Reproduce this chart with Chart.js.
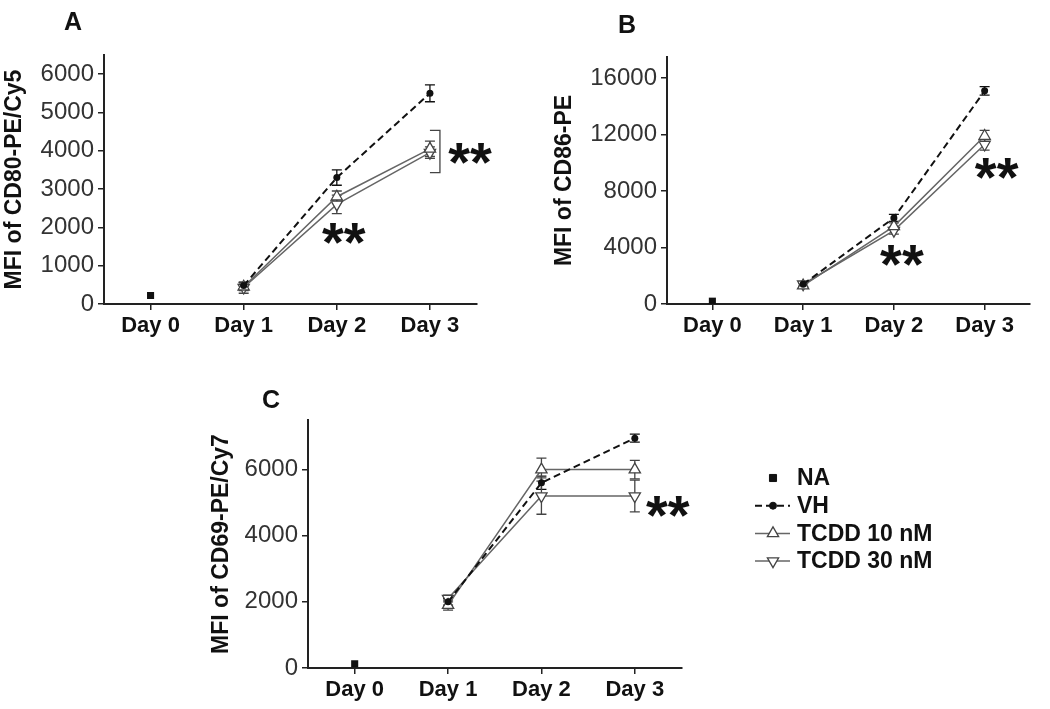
<!DOCTYPE html>
<html>
<head>
<meta charset="utf-8">
<script src="https://cdn.jsdelivr.net/npm/chart.js@4.4.1/dist/chart.umd.min.js"></script>
<style>
  body { margin: 0; background: #fff; width: 1050px; height: 709px; overflow: hidden; position: relative; }
  canvas { position: absolute; }
</style>
</head>
<body>
<canvas id="cA" width="500" height="345" style="left:0;top:0"></canvas>
<canvas id="cB" width="530" height="345" style="left:520px;top:0"></canvas>
<canvas id="cC" width="860" height="329" style="left:190px;top:380px"></canvas>
<script>
const days = ['Day 0', 'Day 1', 'Day 2', 'Day 3'];
const groups = ['NA', 'VH', 'TCDD 10 nM', 'TCDD 30 nM'];

// panel A - CD80
const cd80NA  = [220, null, null, null];
const cd80VH  = [null, 480, 3300, 5500];
const cd80T10 = [null, 450, 2800, 4050];
const cd80T30 = [null, 430, 2600, 3950];
const cd80VHErr  = [0, 80, 200, 220];
const cd80T10Err = [0, 100, 150, 200];
const cd80T30Err = [0, 150, 240, 150];

// panel B - CD86
const cd86NA  = [200, null, null, null];
const cd86VH  = [null, 1400, 6100, 15100];
const cd86T10 = [null, 1300, 5500, 11900];
const cd86T30 = [null, 1400, 5200, 11300];
const cd86VHErr  = [0, 150, 250, 300];
const cd86T10Err = [0, 150, 250, 400];
const cd86T30Err = [0, 150, 250, 400];

// panel C - CD69
const cd69NA  = [130, null, null, null];
const cd69VH  = [null, 2000, 5600, 6950];
const cd69T10 = [null, 1900, 6000, 6000];
const cd69T30 = [null, 2100, 5200, 5200];
const cd69VHErr  = [0, 100, 200, 120];
const cd69T10Err = [0, 150, 350, 280];
const cd69T30Err = [0, 100, 550, 480];

const FONT = '"Liberation Sans", Arial, Helvetica, sans-serif';
const INK = '#111';
const GREY = '#666';

function buildSets(na, vh, t10, t30, vhErr, t10Err, t30Err) {
  return [
    { label: groups[0], data: na, showLine: false, pointStyle: 'rect', pointRadius: 5,
      backgroundColor: INK, borderColor: INK, pointBorderWidth: 0 },
    { label: groups[1], data: vh, errors: vhErr, borderColor: INK, backgroundColor: INK,
      borderWidth: 2, borderDash: [7, 4], pointStyle: 'circle', pointRadius: 3.5, pointBorderWidth: 0 },
    { label: groups[2], data: t10, errors: t10Err, borderColor: GREY, borderWidth: 1.5,
      pointStyle: 'triangle', pointRadius: 6.5, pointBackgroundColor: '#fff',
      pointBorderColor: '#444', pointBorderWidth: 1.3 },
    { label: groups[3], data: t30, errors: t30Err, borderColor: GREY, borderWidth: 1.5,
      pointStyle: 'triangle', pointRotation: 180, pointRadius: 6.5, pointBackgroundColor: '#fff',
      pointBorderColor: '#444', pointBorderWidth: 1.3 }
  ];
}

const errorBars = {
  id: 'errorBars',
  beforeDatasetsDraw(chart) {
    const ctx = chart.ctx, ys = chart.scales.y;
    chart.data.datasets.forEach((ds, di) => {
      if (!ds.errors) return;
      const meta = chart.getDatasetMeta(di);
      ctx.save();
      ctx.strokeStyle = ds.pointBorderColor || ds.borderColor;
      ctx.lineWidth = 1.3;
      ds.data.forEach((v, i) => {
        if (v == null || !ds.errors[i]) return;
        const x = meta.data[i].x;
        const top = ys.getPixelForValue(v + ds.errors[i]);
        const bot = ys.getPixelForValue(v - ds.errors[i]);
        ctx.beginPath();
        ctx.moveTo(x, top); ctx.lineTo(x, bot);
        ctx.moveTo(x - 5, top); ctx.lineTo(x + 5, top);
        ctx.moveTo(x - 5, bot); ctx.lineTo(x + 5, bot);
        ctx.stroke();
      });
      ctx.restore();
    });
  }
};

const panelMarks = {
  id: 'panelMarks',
  afterDraw(chart, args, opts) {
    const ctx = chart.ctx, xs = chart.scales.x, ys = chart.scales.y;
    ctx.save();
    ctx.fillStyle = INK;
    ctx.font = 'bold 25px ' + FONT;
    ctx.fillText(opts.letter, opts.letterX, opts.letterY);
    ctx.font = 'bold 56px ' + FONT;
    ctx.textAlign = 'center';
    (opts.stars || []).forEach(s => {
      const x = xs.getPixelForValue(s.day) + s.dx;
      const y = ys.getPixelForValue(s.value);
      ctx.fillText('**', x, y + 30);
    });
    const b = opts.bracket;
    if (b) {
      const x = xs.getPixelForValue(b.day) + b.dx;
      const y1 = ys.getPixelForValue(b.from), y2 = ys.getPixelForValue(b.to);
      ctx.strokeStyle = '#444';
      ctx.lineWidth = 1.3;
      ctx.beginPath();
      ctx.moveTo(x - 10, y1); ctx.lineTo(x, y1); ctx.lineTo(x, y2); ctx.lineTo(x - 10, y2);
      ctx.stroke();
    }
    ctx.restore();
  }
};

function drawMarker(ctx, ds, x, y) {
  ctx.save();
  ctx.fillStyle = ds.pointBackgroundColor || ds.backgroundColor;
  ctx.strokeStyle = ds.pointBorderColor || ds.borderColor;
  ctx.lineWidth = ds.pointBorderWidth || 0;
  const r = ds.pointRadius;
  ctx.beginPath();
  if (ds.pointStyle === 'rect') {
    const h = r * Math.SQRT1_2;
    ctx.rect(x - h, y - h, 2 * h, 2 * h);
  } else if (ds.pointStyle === 'circle') {
    ctx.arc(x, y, r, 0, Math.PI * 2);
  } else {
    const dir = ds.pointRotation ? -1 : 1;
    for (let k = 0; k < 3; k++) {
      const a = k * 2 * Math.PI / 3;
      const px = x + Math.sin(a) * r, py = y - dir * Math.cos(a) * r;
      k ? ctx.lineTo(px, py) : ctx.moveTo(px, py);
    }
    ctx.closePath();
  }
  ctx.fill();
  if (ctx.lineWidth) ctx.stroke();
  ctx.restore();
}

const sideLegend = {
  id: 'sideLegend',
  afterDraw(chart, args, opts) {
    const ctx = chart.ctx;
    chart.data.datasets.forEach((ds, i) => {
      const y = opts.y + i * opts.gap;
      ctx.save();
      if (ds.showLine !== false) {
        ctx.strokeStyle = ds.borderColor;
        ctx.lineWidth = ds.borderWidth;
        ctx.setLineDash(ds.borderDash || []);
        ctx.beginPath();
        ctx.moveTo(opts.x, y); ctx.lineTo(opts.x + 35, y);
        ctx.stroke();
      }
      ctx.restore();
      drawMarker(ctx, ds, opts.x + 18, y);
      ctx.save();
      ctx.fillStyle = INK;
      ctx.font = 'bold 23px ' + FONT;
      ctx.textBaseline = 'middle';
      ctx.fillText(ds.label, opts.x + 42, y + 1);
      ctx.restore();
    });
  }
};

function makePanel(id, p) {
  const plugins = [errorBars, panelMarks];
  if (p.legend) plugins.push(sideLegend);
  const onStep = v => v % p.yStep === 0;
  return new Chart(document.getElementById(id), {
    type: 'line',
    data: { labels: days, datasets: p.sets },
    plugins,
    options: {
      responsive: false,
      animation: false,
      devicePixelRatio: 1,
      layout: { autoPadding: false, padding: p.padding },
      plugins: {
        legend: { display: false },
        tooltip: { enabled: false },
        panelMarks: p.marks,
        sideLegend: p.legend || {}
      },
      scales: {
        x: {
          offset: true,
          grid: { offset: false, drawOnChartArea: false, drawTicks: true, tickLength: 6, color: '#222', lineWidth: 1.5 },
          border: { color: '#222', width: 2 },
          ticks: { color: INK, padding: 3, font: { family: FONT, size: 22, weight: 'bold' } },
          afterFit(s) { s.height = p.xHeight; }
        },
        y: {
          min: 0,
          max: p.yMax,
          grid: {
            drawOnChartArea: false, drawTicks: true, tickLength: 6, lineWidth: 1.5,
            tickColor: c => (c.tick && onStep(c.tick.value)) ? '#222' : 'rgba(0,0,0,0)'
          },
          border: { color: '#222', width: 2 },
          ticks: {
            stepSize: 500, autoSkip: false, color: '#333', padding: 4,
            font: { family: FONT, size: 24 },
            callback: v => onStep(v) ? String(v) : ''
          },
          title: { display: true, text: p.title, color: INK, padding: { top: p.titlePad, bottom: 0 },
                   font: { family: FONT, size: 23, weight: 'bold' } },
          afterFit(s) { s.width = p.yWidth; }
        }
      }
    }
  });
}

makePanel('cA', {
  sets: buildSets(cd80NA, cd80VH, cd80T10, cd80T30, cd80VHErr, cd80T10Err, cd80T30Err),
  title: 'MFI of CD80-PE/Cy5', titlePad: 1,
  yMax: 6500, yStep: 1000,
  yWidth: 104, xHeight: 41,
  padding: { left: 0, top: 55, right: 23.5, bottom: 0 },
  marks: {
    letter: 'A', letterX: 64, letterY: 30,
    stars: [{ day: 2, value: 1900, dx: 7 }, { day: 3, value: 4000, dx: 40 }],
    bracket: { day: 3, dx: 10, from: 4530, to: 3430 }
  }
});

makePanel('cB', {
  sets: buildSets(cd86NA, cd86VH, cd86T10, cd86T30, cd86VHErr, cd86T10Err, cd86T30Err),
  title: 'MFI of CD86-PE', titlePad: 31,
  yMax: 17500, yStep: 4000,
  yWidth: 147, xHeight: 41,
  padding: { left: 0, top: 57, right: 20, bottom: 0 },
  marks: {
    letter: 'B', letterX: 98, letterY: 33,
    stars: [{ day: 2, value: 3600, dx: 8 }, { day: 3, value: 9800, dx: 12 }]
  }
});

makePanel('cC', {
  sets: buildSets(cd69NA, cd69VH, cd69T10, cd69T30, cd69VHErr, cd69T10Err, cd69T30Err),
  title: 'MFI of CD69-PE/Cy7', titlePad: 18,
  yMax: 7500, yStep: 2000,
  yWidth: 118, xHeight: 41,
  padding: { left: 0, top: 40, right: 368.5, bottom: 0 },
  marks: {
    letter: 'C', letterX: 72, letterY: 28,
    stars: [{ day: 3, value: 4950, dx: 33 }]
  },
  legend: { x: 565, y: 98, gap: 27.7 }
});
</script>
</body>
</html>
